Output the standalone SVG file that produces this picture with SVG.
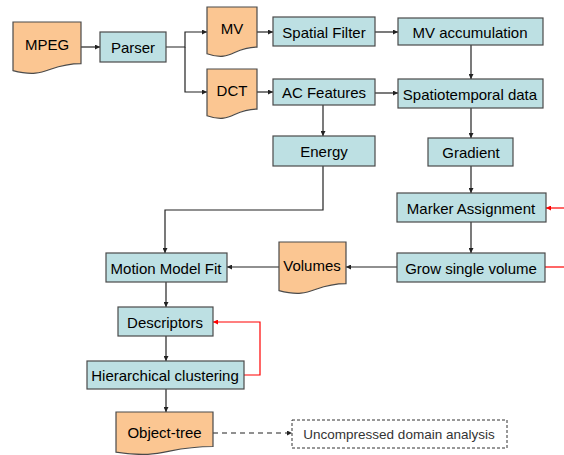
<svg xmlns="http://www.w3.org/2000/svg" width="564" height="455" viewBox="0 0 564 455">
<defs>
<style>
.proc{fill:#bde0e3;stroke:#4a4a4a;stroke-width:1.2}
.doc{fill:#fbc692;stroke:#4a4a4a;stroke-width:1.2}
.t{font-family:"Liberation Sans",Arial,sans-serif;font-size:15px;fill:#000;text-anchor:middle;dominant-baseline:central}
.c{fill:none;stroke:#222;stroke-width:1.2}
.r{fill:none;stroke:#ff0000;stroke-width:1.2}
</style>
<marker id="ah" viewBox="0 0 8 8" refX="8" refY="4" markerWidth="5" markerHeight="5" orient="auto" markerUnits="userSpaceOnUse"><path d="M0,0 L8,4 L0,8 Z" fill="#222"/></marker>
<marker id="ar" viewBox="0 0 8 8" refX="8" refY="4" markerWidth="5" markerHeight="5" orient="auto" markerUnits="userSpaceOnUse"><path d="M0,0 L8,4 L0,8 Z" fill="#ff0000"/></marker>
</defs>
<rect width="564" height="455" fill="#fff"/>
<g id="connectors">
<path class="c" d="M81,47 H100" marker-end="url(#ah)"/>
<path class="c" d="M166,47 H185 V32 H207" marker-end="url(#ah)"/>
<path class="c" d="M185,47 V92 H207" marker-end="url(#ah)"/>
<path class="c" d="M257,32 H273" marker-end="url(#ah)"/>
<path class="c" d="M257,92 H273" marker-end="url(#ah)"/>
<path class="c" d="M375,32 H398" marker-end="url(#ah)"/>
<path class="c" d="M375,93 H398" marker-end="url(#ah)"/>
<path class="c" d="M471,45 V79" marker-end="url(#ah)"/>
<path class="c" d="M323,105 V136" marker-end="url(#ah)"/>
<path class="c" d="M471,108 V138" marker-end="url(#ah)"/>
<path class="c" d="M471,166 V193" marker-end="url(#ah)"/>
<path class="c" d="M471,222 V253" marker-end="url(#ah)"/>
<path class="c" d="M397,267 H346" marker-end="url(#ah)"/>
<path class="c" d="M279,267 H227" marker-end="url(#ah)"/>
<path class="c" d="M323,166 V210 H165 V253" marker-end="url(#ah)"/>
<path class="c" d="M166,282 V307" marker-end="url(#ah)"/>
<path class="c" d="M166,336 V361" marker-end="url(#ah)"/>
<path class="c" d="M166,389 V412" marker-end="url(#ah)"/>
<path class="r" d="M564,208 H546" marker-end="url(#ar)"/>
<path class="r" d="M545,267 H564"/>
<path class="r" d="M244,375 H260 V322 H213" marker-end="url(#ar)"/>
<path class="c" d="M213,433 H292" stroke-dasharray="5,4" marker-end="url(#ah)"/>
</g>
<g id="mpeg"><path class="doc" d="M13,22 H81 V63.7 C47,63.7 47,79.6 13,70.6 Z"/><text class="t" x="47" y="44">MPEG</text></g>
<g id="parser"><rect class="proc" x="100" y="32" width="66" height="30"/><text class="t" x="133" y="47">Parser</text></g>
<g id="mv"><path class="doc" d="M207,7 H257 V47.1 C232,47.1 232,62.4 207,53.7 Z"/><text class="t" x="232" y="28">MV</text></g>
<g id="dct"><path class="doc" d="M207,69 H257 V109.1 C232,109.1 232,124.4 207,115.7 Z"/><text class="t" x="232" y="90">DCT</text></g>
<g id="spatial-filter"><rect class="proc" x="273" y="17" width="102" height="29"/><text class="t" x="324" y="32">Spatial Filter</text></g>
<g id="mv-accumulation"><rect class="proc" x="398" y="18" width="145" height="27"/><text class="t" x="470" y="32">MV accumulation</text></g>
<g id="ac-features"><rect class="proc" x="273" y="79" width="102" height="26"/><text class="t" x="324" y="92">AC Features</text></g>
<g id="spatiotemporal"><rect class="proc" x="398" y="79" width="145" height="29"/><text class="t" x="470" y="94">Spatiotemporal data</text></g>
<g id="energy"><rect class="proc" x="273" y="136" width="102" height="30"/><text class="t" x="324" y="151">Energy</text></g>
<g id="gradient"><rect class="proc" x="428" y="138" width="85" height="28"/><text class="t" x="471" y="152">Gradient</text></g>
<g id="marker-assignment"><rect class="proc" x="397" y="193" width="149" height="29"/><text class="t" x="471" y="208">Marker Assignment</text></g>
<g id="grow"><rect class="proc" x="397" y="253" width="148" height="29"/><text class="t" x="471" y="268">Grow single volume</text></g>
<g id="volumes"><path class="doc" d="M279,242 H346 V283.7 C312.5,283.7 312.5,299.6 279,290.6 Z"/><text class="t" x="312" y="265">Volumes</text></g>
<g id="motion-model-fit"><rect class="proc" x="106" y="253" width="121" height="29"/><text class="t" x="166" y="268">Motion Model Fit</text></g>
<g id="descriptors"><rect class="proc" x="118" y="307" width="95" height="29"/><text class="t" x="165" y="322">Descriptors</text></g>
<g id="hierarchical"><rect class="proc" x="87" y="361" width="157" height="28"/><text class="t" x="165" y="375">Hierarchical clustering</text></g>
<g id="object-tree"><path class="doc" d="M116,412 H213 V446.5 C164.5,446.5 164.5,459.6 116,452.2 Z"/><text class="t" x="164.5" y="432">Object-tree</text></g>
<g id="uncompressed"><rect x="292" y="420" width="215" height="28" fill="#fff" stroke="#333" stroke-width="1" stroke-dasharray="3,2"/><text x="399" y="434" font-family="'Liberation Sans',Arial,sans-serif" font-size="13.5" fill="#333" text-anchor="middle" dominant-baseline="central">Uncompressed domain analysis</text></g>
</svg>
